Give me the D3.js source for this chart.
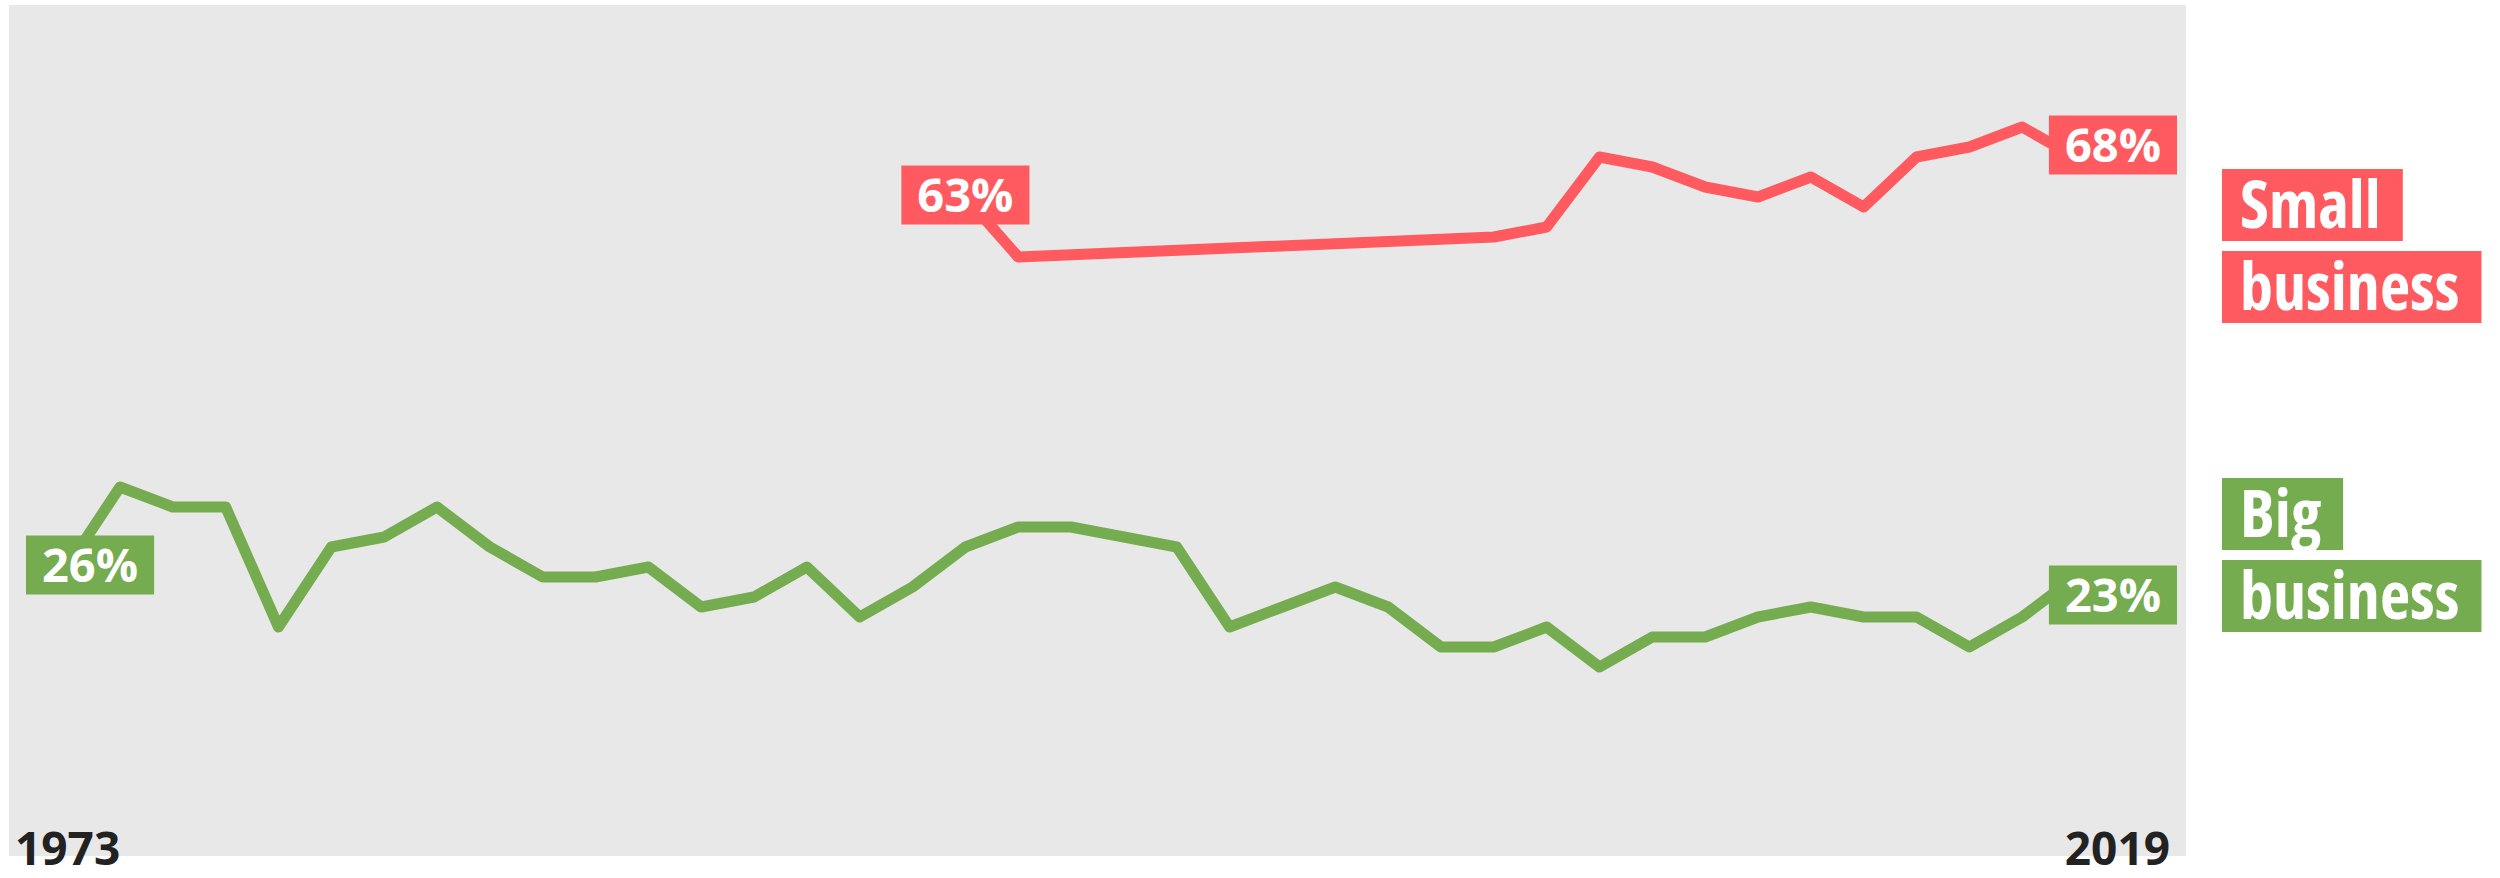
<!DOCTYPE html>
<html>
<head>
<meta charset="utf-8">
<script src="https://cdn.jsdelivr.net/npm/d3@7"></script>
<style>
  body { margin: 0; background: #fff; }
  text { font-family: "Open Sans", "DejaVu Sans", sans-serif; font-weight: 700; }
</style>
</head>
<body>
<div id="chart"></div>
<script>
// survey years (one point per survey, evenly spaced)
var years = [1973, 1975, 1977, 1979, 1981, 1983, 1984, 1985, 1986, 1987, 1988,
    1990, 1991, 1993, 1994, 1995, 1996, 1997, 1998, 1999, 2000, 2001, 2002,
    2003, 2004, 2005, 2006, 2007, 2008, 2009, 2010, 2011, 2012, 2013, 2014,
    2015, 2016, 2017, 2018, 2019];

var bigBusiness = [26, 34, 32, 32, 20, 28, 29, 32, 28, 25, 25, 26, 22, 23, 26, 21,
    24, 28, 30, 30, 29, 28, 20, 22, 24, 22, 18, 18, 20, 16, 19, 19, 21, 22, 21,
    21, 18, 21, 25, 23];

var smallYears = [1997, 1998, 2007, 2008, 2009, 2010, 2011, 2012, 2013, 2014,
    2015, 2016, 2017, 2018, 2019];
var smallBusiness = [63, 57, 59, 60, 67, 66, 64, 63, 65, 62, 67, 68, 70, 67, 68];

var axisLabels = ["1973", "2019"];
var legendSmall = ["Small", "business"];
var legendBig = ["Big", "business"];

var RED = "#ff5a5f",
    GREEN = "#74ac4f";

var width = 2500,
    height = 878,
    plot = {left: 9, top: 5, right: 2186, bottom: 856};

var svg = d3.select("#chart")
    .append("svg")
    .attr("width", width)
    .attr("height", height);

svg.append("rect")
    .attr("x", plot.left)
    .attr("y", plot.top)
    .attr("width", plot.right - plot.left)
    .attr("height", plot.bottom - plot.top)
    .style("fill", "#e8e8e8");

var x = d3.scalePoint()
    .domain(years)
    .range([plot.left, plot.right])
    .padding(1.1);

var y = d3.scaleLinear()
    .domain([0, 80])
    .range([827, 27]);

var line = d3.line()
    .x(function (d) { return x(d.year) })
    .y(function (d) { return y(d.value) });

var bigData = years.map(function (yr, i) { return {year: yr, value: bigBusiness[i]} });
var smallData = smallYears.map(function (yr, i) { return {year: yr, value: smallBusiness[i]} });

var series = [
    {data: smallData, color: RED},
    {data: bigData, color: GREEN}
];

svg.selectAll(".line")
    .data(series)
    .enter()
    .append("path")
    .attr("class", "line")
    .attr("d", function (d) { return line(d.data) })
    .style("fill", "none")
    .style("stroke", function (d) { return d.color })
    .style("stroke-width", 11)
    .style("stroke-linejoin", "round");

// value labels at both ends of each line
var endLabels = [];
series.forEach(function (s) {
    endLabels.push({d: s.data[0], color: s.color});
    endLabels.push({d: s.data[s.data.length - 1], color: s.color});
});

endLabels.forEach(function (l) {
    var g = svg.append("g");
    var bg = g.append("rect").style("fill", l.color);
    var t = g.append("text")
        .attr("text-anchor", "middle")
        .style("font-size", "47px")
        .style("fill", "#fff")
        .text(l.d.value + "%");
    var w = t.node().getComputedTextLength() + 32,
        h = 59,
        px = x(l.d.year),
        py = y(l.d.value) - 2;
    var bx = Math.max(plot.left + 17, px - w / 2);
    bx = Math.min(plot.right - 9 - w, bx);
    bg.attr("x", bx).attr("y", py - h / 2).attr("width", w).attr("height", h);
    t.attr("x", bx + w / 2).attr("y", py + 17);
});

// first and last year under the plot
svg.selectAll(".year")
    .data(axisLabels)
    .enter()
    .append("text")
    .attr("class", "year")
    .attr("x", function (d, i) { return i === 0 ? 15 : 2170 })
    .attr("y", 865)
    .attr("text-anchor", function (d, i) { return i === 0 ? "start" : "end" })
    .style("font-size", "46px")
    .style("fill", "#222")
    .text(function (d) { return d });

// legend: one highlighted box per word line
var drawLegend = function (words, top, color) {
    words.forEach(function (word, i) {
        var g = svg.append("g");
        var bg = g.append("rect").style("fill", color);
        var t = g.append("text")
            .attr("x", 2240)
            .attr("y", top + i * 82 + 59)
            .style("font-size", "66px")
            .style("font-stretch", "87.5%")
            .style("fill", "#fff")
            .text(word);
        var w = t.node().getComputedTextLength();
        bg.attr("x", 2222)
            .attr("y", top + i * 82)
            .attr("width", w + 40)
            .attr("height", 72);
    });
};

drawLegend(legendSmall, 169, RED);
drawLegend(legendBig, 478, GREEN);
</script>
</body>
</html>
